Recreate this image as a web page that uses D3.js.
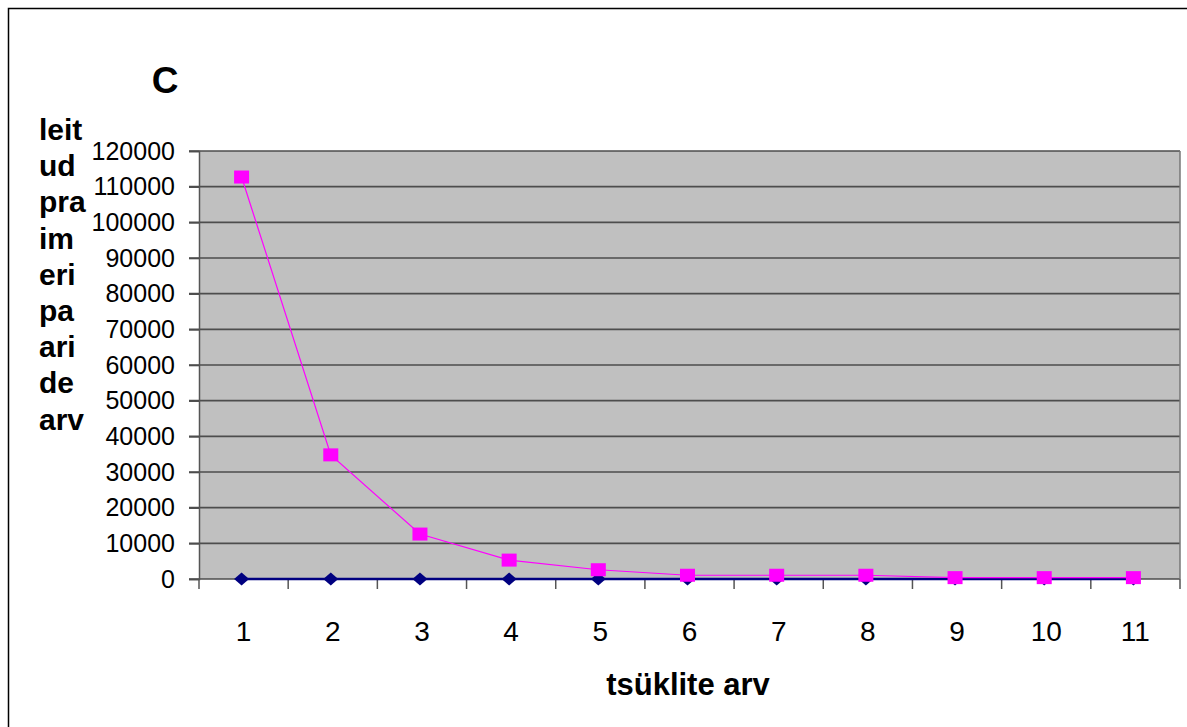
<!DOCTYPE html>
<html><head><meta charset="utf-8">
<script src="https://cdn.jsdelivr.net/npm/d3@7"></script>
<style>body{margin:0;background:#fff}svg{display:block}text{font-family:Arial,"Liberation Sans",sans-serif}</style>
</head><body><svg id="c" width="1187" height="727"></svg>
<script>
const categories = ["1","2","3","4","5","6","7","8","9","10","11"];
const seriesPink = [112700, 34800, 12600, 5300, 2600, 1050, 1050, 1050, 380, 380, 380];
const seriesBlue = [0,0,0,0,0,0,0,0,0,0,0];
const yTicks = [0,10000,20000,30000,40000,50000,60000,70000,80000,90000,100000,110000,120000];
const yLabelLines = ["leit","ud","pra","im","eri","pa","ari","de","arv"];
const title = "C";
const xTitle = "tsüklite arv";

const svg = d3.select("#c");
const L=199, R=1180, T=151, B=579;
svg.append("rect").attr("x",8.5).attr("y",8.5).attr("width",1200).attr("height",800)
  .attr("fill","none").attr("stroke","#000").attr("stroke-width",1.5);

const x = d3.scaleBand().domain(categories).range([L,R]);
const y = d3.scaleLinear().domain([0,120000]).range([B,T]);

svg.append("rect").attr("x",L).attr("y",T).attr("width",R-L).attr("height",B-T).attr("fill","#c0c0c0");
svg.append("g").selectAll("line").data(yTicks).join("line")
  .attr("x1",L-10).attr("x2",R).attr("y1",d=>y(d)).attr("y2",d=>y(d))
  .attr("stroke","#4d4d4d").attr("stroke-width",1.6);
svg.append("line").attr("x1",R).attr("x2",R).attr("y1",T).attr("y2",B).attr("stroke","#777").attr("stroke-width",1.5);
const ya = svg.append("g").attr("transform",`translate(${L},0)`)
  .call(d3.axisLeft(y).tickValues(yTicks).tickFormat(d3.format("d")).tickSize(10).tickPadding(14));
ya.select(".domain").attr("stroke","#555").attr("stroke-width",1.5);
ya.selectAll(".tick line").attr("stroke","#4d4d4d").attr("stroke-width",1.6);
ya.selectAll("text").attr("font-size",25).attr("fill","#000").style("font-family","Arial,'Liberation Sans',sans-serif");
const xa = svg.append("g").attr("transform",`translate(0,${B})`);
const bounds = categories.map(c=>x(c)).concat([R]);
xa.selectAll("line").data(bounds).join("line")
  .attr("x1",d=>d).attr("x2",d=>d).attr("y1",0).attr("y2",10).attr("stroke","#555").attr("stroke-width",1.5);
xa.selectAll("text").data(categories).join("text")
  .attr("x",d=>x(d)+x.bandwidth()/2).attr("y",62).attr("text-anchor","middle")
  .attr("font-size",28).text(d=>d);

const cx = d=>x(d)+x.bandwidth()/2 - 2;
svg.append("path").datum(seriesBlue).attr("fill","none").attr("stroke","#000080").attr("stroke-width",2.5)
  .attr("d", d3.line().x((d,i)=>cx(categories[i])).y(d=>y(d)));
svg.append("g").selectAll("path").data(seriesBlue).join("path")
  .attr("transform",(d,i)=>`translate(${cx(categories[i])},${y(d)})`)
  .attr("d","M0,-6.5L7.5,0L0,6.5L-7.5,0Z").attr("fill","#000080");
svg.append("path").datum(seriesPink).attr("fill","none").attr("stroke","#ff00ff").attr("stroke-width",1.2)
  .attr("d", d3.line().x((d,i)=>cx(categories[i])).y(d=>y(d)));
svg.append("g").selectAll("rect").data(seriesPink).join("rect")
  .attr("x",(d,i)=>cx(categories[i])-7.5).attr("y",d=>y(d)-6.5).attr("width",15).attr("height",13)
  .attr("fill","#ff00ff");

svg.append("text").attr("x",165).attr("y",93).attr("text-anchor","middle").attr("font-size",37).attr("font-weight","bold").text(title);
svg.append("g").selectAll("text").data(yLabelLines).join("text")
  .attr("x",39).attr("y",(d,i)=>140+i*36.2).attr("font-size",30).attr("font-weight","bold").text(d=>d);
svg.append("text").attr("x",688).attr("y",695).attr("text-anchor","middle").attr("font-size",31).attr("font-weight","bold").text(xTitle);
</script></body></html>
